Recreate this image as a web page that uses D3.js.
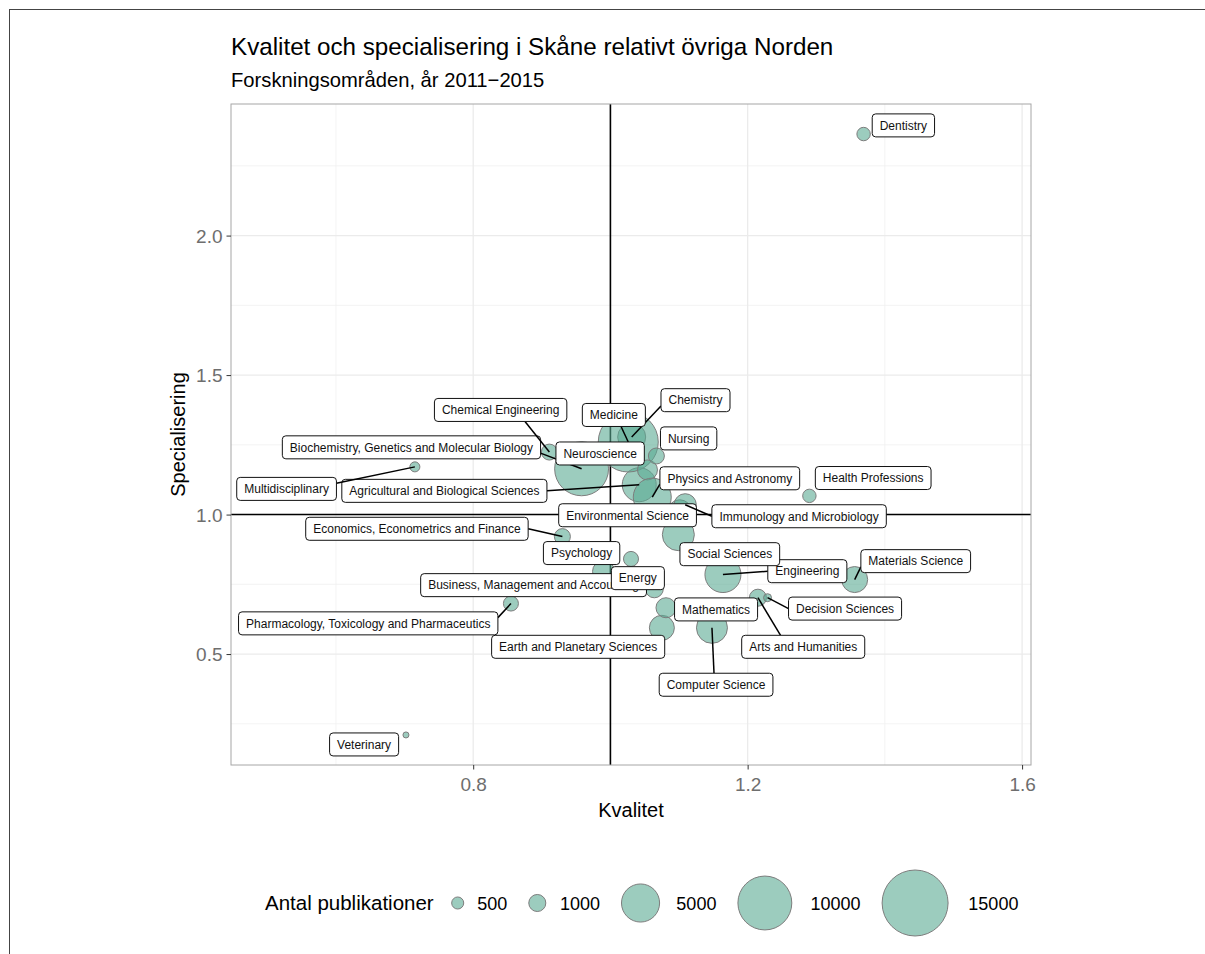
<!DOCTYPE html>
<html><head><meta charset="utf-8">
<script src="https://cdn.jsdelivr.net/npm/d3@7"></script>
<style>
body{margin:0;background:#fff}
svg{display:block}
text{font-family:"Liberation Sans",Arial,Helvetica,sans-serif}
</style>
</head><body>
<svg id="c" width="1205" height="954"></svg>
<script>
// ---------------- data ----------------
const categories = [
  "Agricultural and Biological Sciences","Arts and Humanities","Biochemistry, Genetics and Molecular Biology",
  "Business, Management and Accounting","Chemical Engineering","Chemistry","Computer Science","Decision Sciences",
  "Dentistry","Earth and Planetary Sciences","Economics, Econometrics and Finance","Energy","Engineering",
  "Environmental Science","Health Professions","Immunology and Microbiology","Materials Science","Mathematics",
  "Medicine","Multidisciplinary","Neuroscience","Nursing","Pharmacology, Toxicology and Pharmaceutics",
  "Physics and Astronomy","Psychology","Social Sciences","Veterinary"
];
const kvalitet = [
  1.042,1.215,0.958,
  1.064,0.911,1.031,1.148,1.229,
  1.369,1.075,0.930,1.030,1.164,
  1.101,1.290,1.109,1.356,1.081,
  1.026,0.715,1.054,1.067,0.855,
  1.061,0.990,1.099,0.702
];
const specialisering = [
  1.107,0.702,1.164,
  0.734,1.224,1.278,0.594,0.702,
  2.364,0.594,0.921,0.841,0.785,
  1.010,1.067,1.035,0.767,0.666,
  1.260,1.171,1.160,1.210,0.681,
  1.0625,0.796,0.928,0.210
];
const publikationer = [
  3980,1000,10000,
  1120,880,2700,3310,220,
  620,2150,880,775,4470,
  1980,620,1700,2330,1380,
  12400,345,1380,880,775,
  4970,1670,3530,125
];
// label placement (ggrepel result, data units)
const labelKvalitet = [
  0.758,1.281,0.710,
  0.888,0.840,1.124,1.154,1.342,
  1.427,0.953,0.718,1.040,1.287,
  1.025,1.383,1.275,1.445,1.154,
  1.005,0.528,0.985,1.114,0.647,
  1.174,0.958,1.174,0.641
];
const labelSpecialisering = [
  1.085,0.526,1.241,
  0.747,1.375,1.410,0.390,0.663,
  2.395,0.526,0.949,0.772,0.797,
  0.9975,1.131,0.994,0.833,0.660,
  1.357,1.092,1.219,1.273,0.610,
  1.130,0.862,0.858,0.176
];
const xLimits = [0.5, 1.56];
const xTicks = [0.8, 1.2, 1.6];
const xMinor = [0.6, 1.0, 1.4];
const yTicks = [0.5, 1.0, 1.5, 2.0];
const yMinor = [0.25, 0.75, 1.25, 1.75, 2.25];
const legendBreaks = [500, 1000, 5000, 10000, 15000];
const refKvalitet = 1, refSpecialisering = 1;
const titleText = "Kvalitet och specialisering i Skåne relativt övriga Norden";
const subtitleText = "Forskningsområden, år 2011\u22122015";
const xTitle = "Kvalitet", yTitle = "Specialisering", legendTitle = "Antal publikationer";

// ---------------- layout ----------------
const svg = d3.select("#c");
const P = {left:231, right:1031, top:104, bottom:765};
const fillCol = "#5aaa93", fillOp = 0.6, strokeCol = "#7d7d7d";

const xPad = 0.05*(xLimits[1]-xLimits[0]);
const x = d3.scaleLinear().domain([xLimits[0]-xPad, xLimits[1]+xPad]).range([P.left, P.right]);
const yExt = d3.extent(specialisering), yPad = 0.05*(yExt[1]-yExt[0]);
const y = d3.scaleLinear().domain([yExt[0]-yPad, yExt[1]+yPad]).range([P.bottom, P.top]);
const r = d3.scaleSqrt().domain([0, 15000]).range([0, 33]);

// outer frame
svg.append("rect").attr("x",9.5).attr("y",9.5).attr("width",1400).attr("height",1100)
  .attr("fill","none").attr("stroke","#444").attr("stroke-width",1);

// titles
svg.append("text").attr("x",P.left).attr("y",55).attr("font-size",24.2).attr("fill","#000").text(titleText);
svg.append("text").attr("x",P.left).attr("y",87).attr("font-size",20.2).attr("fill","#000").text(subtitleText);

const g = svg.append("g");
g.append("rect").attr("x",P.left).attr("y",P.top).attr("width",P.right-P.left).attr("height",P.bottom-P.top).attr("fill","#fff");

// grid
g.selectAll(".gxm").data(xMinor).join("line").attr("x1",d=>x(d)).attr("x2",d=>x(d)).attr("y1",P.top).attr("y2",P.bottom)
  .attr("stroke","#f0f0f0").attr("stroke-width",0.8);
g.selectAll(".gym").data(yMinor).join("line").attr("y1",d=>y(d)).attr("y2",d=>y(d)).attr("x1",P.left).attr("x2",P.right)
  .attr("stroke","#f0f0f0").attr("stroke-width",0.8);
g.selectAll(".gx").data(xTicks).join("line").attr("x1",d=>x(d)).attr("x2",d=>x(d)).attr("y1",P.top).attr("y2",P.bottom)
  .attr("stroke","#ebebeb").attr("stroke-width",1.3);
g.selectAll(".gy").data(yTicks).join("line").attr("y1",d=>y(d)).attr("y2",d=>y(d)).attr("x1",P.left).attr("x2",P.right)
  .attr("stroke","#ebebeb").attr("stroke-width",1.3);

// reference lines
g.append("line").attr("x1",x(refKvalitet)).attr("x2",x(refKvalitet)).attr("y1",P.top).attr("y2",P.bottom)
  .attr("stroke","#000").attr("stroke-width",1.6);
g.append("line").attr("y1",y(refSpecialisering)).attr("y2",y(refSpecialisering)).attr("x1",P.left).attr("x2",P.right)
  .attr("stroke","#000").attr("stroke-width",1.6);

// points
const idx = d3.range(categories.length);
g.selectAll(".pt").data(idx).join("circle")
  .attr("cx",i=>x(kvalitet[i])).attr("cy",i=>y(specialisering[i])).attr("r",i=>r(publikationer[i]))
  .attr("fill",fillCol).attr("fill-opacity",fillOp).attr("stroke",strokeCol).attr("stroke-width",1);

// labels (drawn in order: segment, box, text)
const lfs = 12, padX = 7.5, boxH = 23;
const lab = g.append("g");
const clamp = (v,a,b)=>Math.max(a, Math.min(v, b));
idx.forEach(i=>{
  const lx = x(labelKvalitet[i]), ly = y(labelSpecialisering[i]);
  const px = x(kvalitet[i]), py = y(specialisering[i]);
  const grp = lab.append("g");
  const seg = grp.append("line");
  const box = grp.append("rect");
  const t = grp.append("text").attr("x",lx).attr("y",ly+4.3).attr("text-anchor","middle")
    .attr("font-size",lfs).attr("fill","#111").text(categories[i]);
  const tw = t.node().getComputedTextLength();
  const bw = tw + 2*padX;
  const x0 = lx-bw/2, x1 = lx+bw/2, y0 = ly-boxH/2, y1 = ly+boxH/2;
  box.attr("x",x0).attr("y",y0).attr("width",bw).attr("height",boxH).attr("rx",3.5)
    .attr("fill","#fff").attr("stroke","#111").attr("stroke-width",1);
  const dist = Math.hypot(px-clamp(px,x0,x1), py-clamp(py,y0,y1));
  if (dist > 9) {
    let sx, sy;
    if (px < x0 || px > x1) {
      sx = px < x0 ? x0 : x1;
      sy = (py >= y0 && py <= y1) ? ly : (ly + clamp(py,y0,y1))/2;
    } else {
      sy = py < y0 ? y0 : y1;
      sx = (lx + px)/2;
    }
    seg.attr("x1",sx).attr("y1",sy).attr("x2",px).attr("y2",py).attr("stroke","#000").attr("stroke-width",1.5);
  } else seg.remove();
});

// panel border
g.append("rect").attr("x",P.left).attr("y",P.top).attr("width",P.right-P.left).attr("height",P.bottom-P.top)
  .attr("fill","none").attr("stroke","#a6a6a6").attr("stroke-width",1);

// axes
const tickCol = "#6e6e6e", tickFs = 19;
const ax = svg.append("g").attr("transform",`translate(0,${P.bottom})`)
  .call(d3.axisBottom(x).tickValues(xTicks).tickFormat(d3.format(".1f")).tickSize(4.5).tickPadding(8));
const ay = svg.append("g").attr("transform",`translate(${P.left},0)`)
  .call(d3.axisLeft(y).tickValues(yTicks).tickFormat(d3.format(".1f")).tickSize(4.5).tickPadding(4));
[ax, ay].forEach(a=>{
  a.select(".domain").remove();
  a.selectAll(".tick line").attr("stroke","#333").attr("stroke-width",1);
  a.selectAll(".tick text").attr("fill",tickCol).attr("font-size",tickFs)
    .attr("font-family","'Liberation Sans',Arial,Helvetica,sans-serif");
});
ay.selectAll(".tick text").attr("dy","0.35em");

svg.append("text").attr("x",(P.left+P.right)/2).attr("y",817).attr("text-anchor","middle")
  .attr("font-size",20).attr("fill","#000").text(xTitle);
svg.append("text").attr("transform",`translate(185,${(P.top+P.bottom)/2}) rotate(-90)`).attr("text-anchor","middle")
  .attr("font-size",20).attr("fill","#000").text(yTitle);

// legend
const legY = 903, legX = 265;
const lt = svg.append("text").attr("x",legX).attr("y",legY+7).attr("font-size",20.5).attr("fill","#000").text(legendTitle);
let cursor = legX + lt.node().getComputedTextLength() + 18;
legendBreaks.forEach(b=>{
  const rr = r(b);
  const cx = cursor + rr;
  svg.append("circle").attr("cx",cx).attr("cy",legY).attr("r",rr)
    .attr("fill",fillCol).attr("fill-opacity",fillOp).attr("stroke",strokeCol).attr("stroke-width",1);
  const tx = cx + rr + 12 + 0.25*rr;
  const tt = svg.append("text").attr("x",tx).attr("y",legY+6.5).attr("font-size",18).attr("fill","#000").text(b);
  cursor = tx + tt.node().getComputedTextLength() + 21.5;
});
</script>
</body></html>
